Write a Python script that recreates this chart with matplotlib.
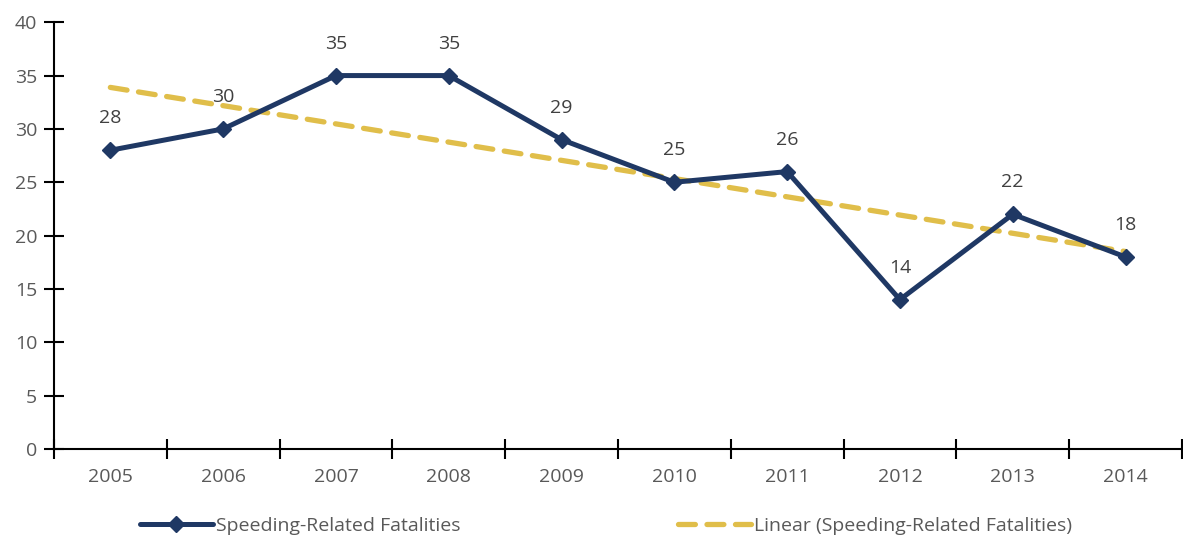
import numpy as np
import matplotlib.pyplot as plt
from matplotlib.lines import Line2D

years = ["2005", "2006", "2007", "2008", "2009", "2010", "2011", "2012", "2013", "2014"]
fatalities = [28, 30, 35, 35, 29, 25, 26, 14, 22, 18]

plt.rcParams['font.family'] = ['Open Sans', 'DejaVu Sans']

navy = "#1F3864"
gold = "#E0BE4A"
grey = "#595959"
fs = 14

fig = plt.figure(figsize=(11.83, 5.42), dpi=100)
ax = fig.add_axes([0.0456, 0.1716, 0.9535, 0.7874])

x = np.arange(len(years))
# Excel-style linear trendline
B1, B0 = np.polyfit(x, fatalities, 1)

ax.plot(x, B1 * x + B0, color=gold, lw=3.8, ls=(0, (3.2, 2.2)),
        dash_capstyle='round', zorder=2)
ax.plot(x, fatalities, color=navy, lw=3.6, marker='D', ms=8, zorder=3)

for xi, v in zip(x, fatalities):
    ax.annotate(str(v), (xi, v), xytext=(0, 23), textcoords='offset points',
                ha='center', va='center', fontsize=fs, color="#404040")

ax.set_xlim(-0.5, len(years) - 0.5)
ax.set_ylim(0, 40)
ax.set_yticks(range(0, 41, 5))
ax.set_xticks(x)
ax.set_xticklabels(years)
ax.set_xticks(np.arange(-0.5, len(years)), minor=True)
ax.tick_params(axis='x', which='major', length=0, pad=14, labelsize=fs, labelcolor=grey)
ax.tick_params(axis='x', which='minor', direction='inout', length=14, width=1.5, color='black')
ax.tick_params(axis='y', direction='inout', length=14, width=1.5, pad=5,
               labelsize=fs, labelcolor=grey)

for s in ['top', 'right']:
    ax.spines[s].set_visible(False)
for s in ['left', 'bottom']:
    ax.spines[s].set_linewidth(1.5)

handles = [
    Line2D([], [], color=navy, lw=3.6, marker='D', ms=8, solid_capstyle='round'),
    Line2D([], [], color=gold, lw=3.8, ls=(0, (3.2, 2.2)), dash_capstyle='round'),
]
labels = ["Speeding-Related Fatalities", "Linear (Speeding-Related Fatalities)"]
fig.legend(handles, labels, loc='center', bbox_to_anchor=(0.512, 0.03), ncol=2,
           frameon=False, fontsize=fs, labelcolor=grey, handlelength=3.75,
           handletextpad=0.15, columnspacing=11.2)

plt.savefig("out.png", dpi=100)
